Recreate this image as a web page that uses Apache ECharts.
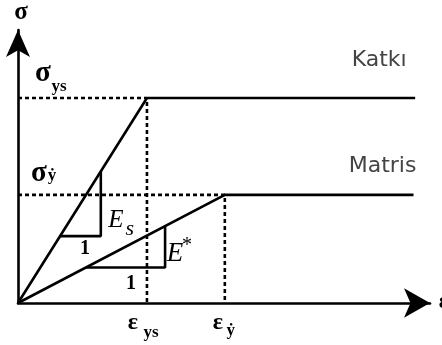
<!DOCTYPE html>
<html><head><meta charset="utf-8">
<script src="https://cdn.jsdelivr.net/npm/echarts@6/dist/echarts.min.js"></script>
<style>html,body{margin:0;padding:0;background:#fff}#c{width:442px;height:345px}</style>
</head><body><div id="c"></div>
<script>
// Idealised stress-strain curves: reinforcement (Katkı) and matrix (Matris)
const yieldStrainS = 3.13;   // ε_ys
const yieldStrainM = 5.02;   // ε_y*
const yieldStressS = 7.51;   // σ_ys
const yieldStressM = 3.96;   // σ_y*
const strainEndS = 9.64;
const strainEndM = 9.6;

const katkiCurve = [[0, 0], [yieldStrainS, yieldStressS], [strainEndS, yieldStressS]];
const matrisCurve = [[0, 0], [yieldStrainM, yieldStressM], [strainEndM, yieldStressM]];

// slope triangles (run = 1)
const esTriangle = [[1.02, 2.45], [2.01, 2.45], [2.01, 4.82]];
const eStarTriangle = [[1.65, 1.30], [3.57, 1.30], [3.57, 2.82]];

const guideS = [[0, yieldStressS], [yieldStrainS, yieldStressS], [yieldStrainS, 0]];
const guideM = [[0, yieldStressM], [yieldStrainM, yieldStressM], [yieldStrainM, 0]];

const chart = echarts.init(document.getElementById('c'), null, {renderer: 'canvas'});

const solid = {color: '#000', width: 2.6};
const dotted = {color: '#000', width: 2.6, type: [4, 3]};
function line(data, style) {
  return {type: 'line', data: data, symbol: 'none', lineStyle: style, silent: true, animation: false, z: 3};
}

chart.setOption({
  animation: false,
  grid: {left: 18, top: 30, width: 412, bottom: 42},
  xAxis: {
    type: 'value', min: 0, max: 10,
    axisLine: {show: true, lineStyle: {color: '#000', width: 2.6}, symbol: ['none', 'arrow'], symbolSize: [22, 26]},
    axisTick: {show: false}, axisLabel: {show: false}, splitLine: {show: false}
  },
  yAxis: {
    type: 'value', min: 0, max: 10,
    axisLine: {show: true, lineStyle: {color: '#000', width: 2.6}, symbol: ['none', 'arrow'], symbolSize: [18, 27]},
    axisTick: {show: false}, axisLabel: {show: false}, splitLine: {show: false}
  },
  series: [
    line(guideS, dotted),
    line(guideM, dotted),
    line(katkiCurve, solid),
    line(matrisCurve, solid),
    line(esTriangle, solid),
    line(eStarTriangle, solid)
  ]
});

// annotations anchored to data coordinates
const px = p => chart.convertToPixel({gridIndex: 0}, p);
const SERIF = '"Liberation Serif", "DejaVu Serif", serif';
const SANS = '"DejaVu Sans", "Liberation Sans", sans-serif';
function lab(anchor, dx, dy, text, font, fill) {
  const q = px(anchor);
  return {
    type: 'text', x: q[0] + dx, y: q[1] + dy, z: 10,
    style: {text: text, font: font, fill: fill || '#000', textAlign: 'center', textVerticalAlign: 'middle'}
  };
}
const big = 'bold 29px ' + SERIF;
const small = 'bold 17px ' + SERIF;
const eps = 'bold 24px ' + SERIF;

chart.setOption({
  graphic: [
    lab([0, 10], 3, -17, 'σ', 'bold 25px ' + SERIF),
    lab([0, yieldStressS], 25, -24, 'σ', big),
    lab([0, yieldStressS], 41, -11, 'ys', small),
    lab([0, yieldStressM], 21, -21, 'σ', big),
    lab([0, yieldStressM], 34, -19, 'ẏ', small),
    lab([yieldStrainS, 0], -14, 20, 'ε', eps),
    lab([yieldStrainS, 0], 4, 30, 'ys', small),
    lab([yieldStrainM, 0], -7, 20, 'ε', eps),
    lab([yieldStrainM, 0], 6, 28, 'ẏ', small),
    lab([10, 0], 14, -1, 'ε', eps),
    lab(esTriangle[0], 25, 13, '1', 'bold 20px ' + SERIF),
    lab(eStarTriangle[0], 45, 16, '1', 'bold 20px ' + SERIF),
    lab(esTriangle[1], 15, -16, 'E', 'italic 25px ' + SERIF),
    lab(esTriangle[1], 29, -7, 's', 'italic 22px ' + SERIF),
    lab(eStarTriangle[1], 10, -14, 'E', 'italic 27px ' + SERIF),
    lab(eStarTriangle[1], 22, -22, '*', '20px ' + SERIF),
    lab([strainEndS, yieldStressS], -36, -38, 'Katkı', '22px ' + SANS, '#444'),
    lab([strainEndM, yieldStressM], -31, -29, 'Matris', '22px ' + SANS, '#444')
  ]
});
</script></body></html>
